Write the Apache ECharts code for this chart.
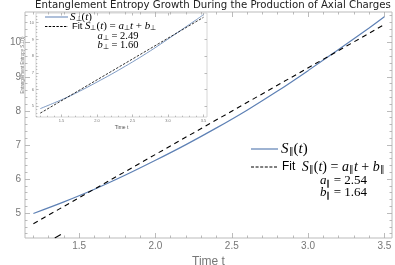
<!DOCTYPE html>
<html>
<head>
<meta charset="utf-8">
<script src="https://cdn.jsdelivr.net/npm/echarts@6/dist/echarts.min.js"></script>
<style>html,body{margin:0;padding:0;background:#fff}#c{width:395px;height:265px}</style>
</head>
<body>
<div id="c"></div>
<script>
// ---- data ----
const tPar = [1.2, 1.4, 1.6, 1.8, 2.0, 2.2, 2.4, 2.6, 2.8, 3.0, 3.2, 3.4, 3.5];
const sPar = [4.99, 5.33, 5.70, 6.11, 6.55, 7.01, 7.50, 8.02, 8.58, 9.18, 9.80, 10.43, 10.76];
const fitParT = [1.2, 3.5];
const fitParS = [4.69, 10.53];
const fragT = [1.34, 1.38];
const fragS = [4.27, 4.37];
const tPerp = [1.2, 1.4, 1.6, 1.8, 2.0, 2.2, 2.4, 2.6, 2.8, 3.0, 3.2, 3.4, 3.5];
const sPerp = [4.86, 5.21, 5.58, 6.00, 6.45, 6.91, 7.40, 7.91, 8.45, 9.02, 9.60, 10.18, 10.48];
const fitPerpT = [1.2, 3.5];
const fitPerpS = [4.59, 10.32];
// ticks
const xMajor = [1.5, 2.0, 2.5, 3.0, 3.5];
const xMinor = [1.2, 1.3, 1.4, 1.6, 1.7, 1.8, 1.9, 2.1, 2.2, 2.3, 2.4, 2.6, 2.7, 2.8, 2.9, 3.1, 3.2, 3.3, 3.4];
const yMajor = [5, 6, 7, 8, 9, 10];
const yMinor = [4.4, 4.6, 4.8, 5.2, 5.4, 5.6, 5.8, 6.2, 6.4, 6.6, 6.8, 7.2, 7.4, 7.6, 7.8, 8.2, 8.4, 8.6, 8.8, 9.2, 9.4, 9.6, 9.8, 10.2, 10.4, 10.6, 10.8];

const zip = (a, b) => a.map((v, i) => [v, b[i]]);
const TICK = '#aaa';
const LBL = '#777';
const BLUE = '#5E81B5';

function xAx(grid, pos, ticks, len, labels, extra) {
  return Object.assign({
    type: 'value', gridIndex: grid, position: pos, min: grid === 0 ? 1.145 : 1.14, max: 3.55,
    axisLine: { show: false }, splitLine: { show: false },
    axisTick: { show: true, inside: true, length: len, customValues: ticks, lineStyle: { color: TICK, width: 0.8 } },
    axisLabel: labels ? Object.assign({ customValues: ticks, formatter: v => v.toFixed(1) }, labels) : { show: false }
  }, extra || {});
}
function yAx(grid, pos, ticks, len, labels, extra, range) {
  return Object.assign({
    type: 'value', gridIndex: grid, position: pos, min: range[0], max: range[1],
    axisLine: { show: false }, splitLine: { show: false },
    axisTick: { show: true, inside: true, length: len, customValues: ticks, lineStyle: { color: TICK, width: 0.8 } },
    axisLabel: labels ? Object.assign({ customValues: ticks, formatter: v => String(v) }, labels) : { show: false }
  }, extra || {});
}
const mainY = [4.27, 10.9];
const insY = [4.36, 10.58];

const serif = 'Liberation Serif';
const richMath = (fs) => ({
  i: { fontFamily: serif, fontStyle: 'italic', fontSize: fs, color: '#000' },
  r: { fontFamily: serif, fontSize: fs, color: '#000' },
  sub: { fontFamily: serif, fontSize: fs * 0.62, color: '#000', verticalAlign: 'bottom', padding: [fs * 0.35, 0, 0, 0] },
  s: { fontFamily: 'Liberation Sans', fontSize: fs * 0.85, color: '#000' }
});

const chart = echarts.init(document.getElementById('c'), null, { renderer: 'canvas' });
chart.setOption({
  animation: false,
  backgroundColor: '#fff',
  title: {
    text: 'Entanglement Entropy Growth During the Production of Axial Charges',
    left: 35, top: 0, padding: 0,
    textStyle: { fontFamily: 'DejaVu Sans', fontSize: 10.2, fontWeight: 'normal', color: '#222', lineHeight: 11 }
  },
  grid: [
    { left: 25, top: 12, right: 3, bottom: 27, outerBoundsMode: 'none', containLabel: false, show: true, borderColor: '#bbb', borderWidth: 1, backgroundColor: 'transparent' },
    { left: 36, top: 13, width: 171, height: 104, outerBoundsMode: 'none', containLabel: false, show: true, borderColor: '#ccc', borderWidth: 0.8, backgroundColor: '#fff' }
  ],
  xAxis: [
    xAx(0, 'bottom', xMajor, 5, { fontFamily: 'Liberation Sans', fontSize: 10, color: LBL, margin: 3 },
      { name: 'Time t', nameLocation: 'middle', nameGap: 13, nameTextStyle: { fontFamily: 'Liberation Sans', fontSize: 12, color: LBL } }),
    xAx(0, 'bottom', xMinor, 2.5, null),
    xAx(0, 'top', xMajor, 5, null),
    xAx(0, 'top', xMinor, 2.5, null),
    xAx(1, 'bottom', xMajor, 2.5, { fontFamily: 'Liberation Sans', fontSize: 4, color: LBL, margin: 2 },
      { name: 'Time t', nameLocation: 'middle', nameGap: 8, nameTextStyle: { fontFamily: 'Liberation Sans', fontSize: 5, color: '#555' } }),
    xAx(1, 'bottom', xMinor, 1.3, null),
    xAx(1, 'top', xMajor, 2.5, null)
  ],
  yAxis: [
    yAx(0, 'left', yMajor, 5, { fontFamily: 'Liberation Sans', fontSize: 10, color: LBL, margin: 4 },
      { name: '{n|Entanglement Entropy S}{sb|||}{n|(t)}', nameLocation: 'middle', nameGap: 11,
        nameTextStyle: { rich: {
          n: { fontFamily: 'Liberation Sans', fontSize: 12, color: LBL },
          sb: { fontFamily: 'Liberation Sans', fontSize: 8, color: LBL, verticalAlign: 'bottom', padding: [4, 0, 0, 0] } } } }, mainY),
    yAx(0, 'left', yMinor, 2.5, null, null, mainY),
    yAx(0, 'right', yMajor, 5, null, null, mainY),
    yAx(0, 'right', yMinor, 2.5, null, null, mainY),
    yAx(1, 'left', yMajor, 2.5, { fontFamily: 'Liberation Sans', fontSize: 4, color: LBL, margin: 2 },
      { name: 'Entanglement Entropy S⊥(t)', nameLocation: 'middle', nameGap: 5,
        nameTextStyle: { fontFamily: 'Liberation Sans', fontSize: 4.5, color: '#777' } }, insY),
    yAx(1, 'left', yMinor, 1.3, null, null, insY),
    yAx(1, 'right', yMajor, 2.5, null, null, insY)
  ],
  series: [
    { type: 'line', xAxisIndex: 0, yAxisIndex: 0, data: zip(tPar, sPar), smooth: 0.3, showSymbol: false, symbol: 'none',
      lineStyle: { color: BLUE, width: 1.2 }, z: 3 },
    { type: 'line', xAxisIndex: 0, yAxisIndex: 0, data: zip(fitParT, fitParS), showSymbol: false, symbol: 'none',
      lineStyle: { color: '#000', width: 1.1, type: [5, 4] }, z: 4 },
    { type: 'line', xAxisIndex: 0, yAxisIndex: 0, data: zip(fragT, fragS), showSymbol: false, symbol: 'none',
      lineStyle: { color: '#000', width: 1.1 }, z: 4 },
    { type: 'line', xAxisIndex: 4, yAxisIndex: 4, data: zip(tPerp, sPerp), smooth: 0.3, showSymbol: false, symbol: 'none',
      lineStyle: { color: BLUE, width: 0.8 }, z: 6 },
    { type: 'line', xAxisIndex: 4, yAxisIndex: 4, data: zip(fitPerpT, fitPerpS), showSymbol: false, symbol: 'none',
      lineStyle: { color: '#000', width: 0.8, type: [2.5, 1.5] }, z: 7 }
  ],
  graphic: [
    // main legend
    { type: 'line', shape: { x1: 251, y1: 149, x2: 278, y2: 149 }, style: { stroke: BLUE, lineWidth: 1.2 }, z: 20 },
    { type: 'text', x: 281, y: 149, z: 20, style: { text: '{i|S}{sub|∥}{r|(}{i|t}{r|)}', rich: richMath(15), verticalAlign: 'middle' } },
    { type: 'line', shape: { x1: 251, y1: 167, x2: 278, y2: 167 }, style: { stroke: '#000', lineWidth: 1, lineDash: [3, 1.6] }, z: 20 },
    { type: 'text', x: 282, y: 167, z: 20, style: { text: '{s|Fit  }{i|S}{sub|∥}{r|(}{i|t}{r|) = }{i|a}{sub|∥}{i|t}{r| + }{i|b}{sub|∥}', rich: richMath(14), verticalAlign: 'middle' } },
    { type: 'text', x: 367, y: 181, z: 20, style: { text: '{i|a}{sub|∥}{r| = 2.54}', rich: richMath(13), verticalAlign: 'middle', align: 'right' } },
    { type: 'text', x: 367, y: 193, z: 20, style: { text: '{i|b}{sub|∥}{r| = 1.64}', rich: richMath(13), verticalAlign: 'middle', align: 'right' } },
    // inset legend
    { type: 'line', shape: { x1: 45, y1: 17, x2: 68, y2: 17 }, style: { stroke: BLUE, lineWidth: 1 }, z: 20 },
    { type: 'text', x: 70, y: 17, z: 20, style: { text: '{i|S}{sub|⊥}{r|(}{i|t}{r|)}', rich: richMath(11), verticalAlign: 'middle' } },
    { type: 'line', shape: { x1: 45, y1: 26.5, x2: 68, y2: 26.5 }, style: { stroke: '#000', lineWidth: 1, lineDash: [2.4, 1.4] }, z: 20 },
    { type: 'text', x: 72, y: 26.5, z: 20, style: { text: '{s|Fit }{i|S}{sub|⊥}{r|(}{i|t}{r|) = }{i|a}{sub|⊥}{i|t}{r| + }{i|b}{sub|⊥}', rich: richMath(11), verticalAlign: 'middle' } },
    { type: 'text', x: 118, y: 36.5, z: 20, style: { text: '{i|a}{sub|⊥}{r| = 2.49}', rich: richMath(10.5), verticalAlign: 'middle', align: 'center' } },
    { type: 'text', x: 118, y: 45.5, z: 20, style: { text: '{i|b}{sub|⊥}{r| = 1.60}', rich: richMath(10.5), verticalAlign: 'middle', align: 'center' } }
  ]
});
</script>
</body>
</html>
